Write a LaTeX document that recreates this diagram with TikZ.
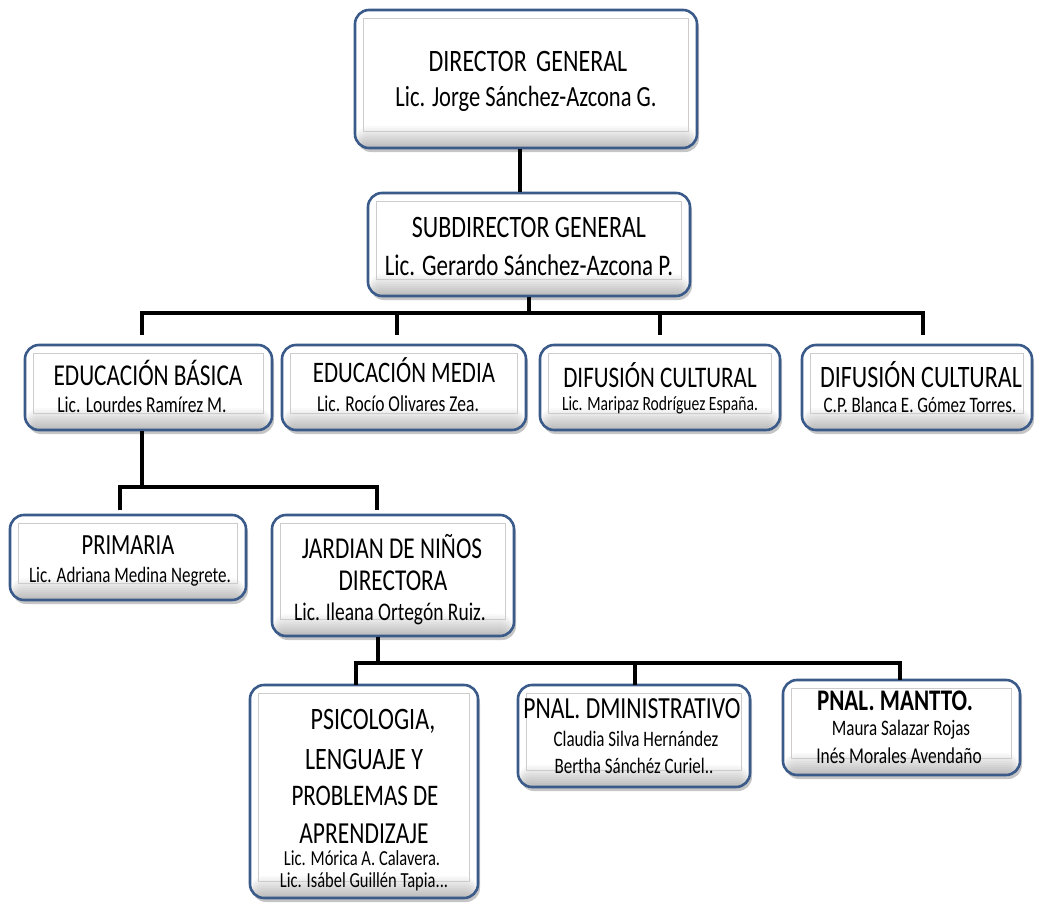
\documentclass[tikz,border=0pt]{standalone}
\usepackage{fontspec}
\usepackage{graphicx}
\setmainfont{Carlito}
\usetikzlibrary{shadows,calc}
\definecolor{boxblue}{HTML}{3A5A8A}
\tikzset{
  orgbox/.style={draw=boxblue, line width=2.6pt, rounded corners=14pt, fill=white,
    drop shadow={opacity=0.45, shadow xshift=2pt, shadow yshift=-4pt},
    align=center, inner sep=0pt,
    path picture={
      \foreach \i [evaluate=\i as \c using \i*2.4] in {0,...,11}{
        \fill[black!\c] ([yshift={24pt-2*\i pt}]path picture bounding box.south west) rectangle (path picture bounding box.south east);
      }
    }},
  inner/.style={draw=black!20, line width=0.6pt},
  conn/.style={draw=black, line width=4pt},
  txt/.style={inner sep=0pt, align=center},
}
\newcommand{\vs}[1]{\scalebox{1}[1.3]{#1}}
\newcommand{\fs}[1]{\fontsize{#1}{#1}\selectfont}
\begin{document}
\begin{tikzpicture}[x=1pt,y=-1pt]
\useasboundingbox (0,0) rectangle (1037,905);
\fill[white] (0,0) rectangle (1037,905);

\coordinate (b1) at (0,313);

\node[orgbox, minimum width=342pt, minimum height=138pt] (dir) at (526,79) {};
\node[orgbox, minimum width=322pt, minimum height=103pt] (sub) at (529,244.5) {};
\node[orgbox, minimum width=247pt, minimum height=85pt] (eb) at (148.5,387.5) {};
\node[orgbox, minimum width=244pt, minimum height=85pt] (em) at (404,387.5) {};
\node[orgbox, minimum width=240pt, minimum height=85pt] (dc1) at (660,387.5) {};
\node[orgbox, minimum width=230pt, minimum height=85pt] (dc2) at (917,387.5) {};
\node[orgbox, minimum width=236pt, minimum height=85pt] (prim) at (128,557.5) {};
\node[orgbox, minimum width=242pt, minimum height=121pt] (jard) at (393,575.5) {};
\node[orgbox, minimum width=228pt, minimum height=213pt] (psi) at (364,791.5) {};
\node[orgbox, minimum width=232pt, minimum height=102pt] (pnad) at (634,736) {};
\node[orgbox, minimum width=237pt, minimum height=95pt] (pnm) at (901.5,727.5) {};

\foreach \n in {dir,sub,eb,em,dc1,dc2,prim,jard,psi,pnad,pnm}{
  \draw[inner] ([shift={(10,10)}]\n.north west) rectangle ([shift={(-10,-18)}]\n.south east);
}

% texts
\node[txt, font=\fs{24}] (t1) at (528,61) {\vs{DIRECTOR\, GENERAL}};
\node[txt, font=\fs{22.5}] (t2) at (526,99) {\vs{Lic. Jorge Sánchez-Azcona G.}};
\node[txt, font=\fs{24}] (t3) at (529,227) {\vs{SUBDIRECTOR GENERAL}};
\node[txt, font=\fs{23}] (t4) at (529,265) {\vs{Lic. Gerardo Sánchez-Azcona P.}};

\node[txt, font=\fs{23.3}] (t5) at (148,373) {\vs{EDUCACIÓN BÁSICA}};
\node[txt, font=\fs{17.5}] (t6) at (142,405) {\vs{Lic. Lourdes Ramírez M.}};
\node[txt, font=\fs{22.9}] (t7) at (404,370) {\vs{EDUCACIÓN MEDIA}};
\node[txt, font=\fs{17.5}] (t8) at (398,404) {\vs{Lic. Rocío Olivares Zea.}};
\node[txt, font=\fs{23}] (t9) at (660,375) {\vs{DIFUSIÓN CULTURAL}};
\node[txt, font=\fs{15.6}] (t10) at (660,405) {\vs{Lic. Maripaz Rodríguez España.}};
\node[txt, font=\fs{24}] (t11) at (921,375) {\vs{DIFUSIÓN CULTURAL}};
\node[txt, font=\fs{17}] (t12) at (920,405) {\vs{C.P. Blanca E. Gómez Torres.}};

\node[txt, font=\fs{22.5}] (t13) at (128,545) {\vs{PRIMARIA}};
\node[txt, font=\fs{17}] (t14) at (130,577) {\vs{Lic. Adriana Medina Negrete.}};
\node[txt, font=\fs{23.3}] (t15a) at (392,547) {\vs{JARDIAN DE NIÑOS}};
\node[txt, font=\fs{23.3}] (t15b) at (393,581) {\vs{DIRECTORA}};
\node[txt, font=\fs{19.5}] (t16) at (390,614) {\vs{Lic. Ileana Ortegón Ruiz.}};

\node[txt, font=\fs{24}] (t17a) at (373,721) {\vs{PSICOLOGIA,}};
\node[txt, font=\fs{24}] (t17b) at (364,759) {\vs{LENGUAJE Y}};
\node[txt, font=\fs{23}] (t17c) at (365,796) {\vs{PROBLEMAS DE}};
\node[txt, font=\fs{23.5}] (t17d) at (364,834) {\vs{APRENDIZAJE}};
\node[txt, font=\fs{16.5}] (t18a) at (362,858) {\vs{Lic. Mórica A. Calavera.}};
\node[txt, font=\fs{16.5}] (t18b) at (364,882) {\vs{Lic. Isábel Guillén Tapia...}};

\node[txt, font=\fs{23.6}] (t19) at (632,709) {\vs{PNAL. DMINISTRATIVO}};
\node[txt, font=\fs{17}] (t20a) at (636,739) {\vs{Claudia Silva Hernández}};
\node[txt, font=\fs{17}] (t20b) at (634,766) {\vs{Bertha Sánchéz Curiel..}};
\node[txt, font=\bfseries\fs{23}] (t21) at (895,701) {\vs{PNAL. MANTTO.}};
\node[txt, font=\fs{17}] (t22a) at (901,730) {\vs{Maura Salazar Rojas}};
\node[txt, font=\fs{17.4}] (t22b) at (899,756) {\vs{Inés Morales Avendaño}};

% connectors
\draw[conn] (dir.south -| 520,0) -- (sub.north -| 520,0);
\draw[conn] (sub.south) -- (sub.south |- b1);
\draw[conn] (142,335) |- (923,313) -- (923,335);
\draw[conn] (397,313) -- (397,335);
\draw[conn] (660,313) -- (660,335);
\draw[conn] (eb.south -| 142,0) -- (142,487);
\draw[conn] (120,510) |- (377,487) -- (377,510);
\draw[conn] (jard.south -| 378,0) -- (378,663);
\draw[conn] (356,685) |- (900,663) -- (900,680);
\draw[conn] (635,663) -- (635,685);
\end{tikzpicture}
\end{document}
